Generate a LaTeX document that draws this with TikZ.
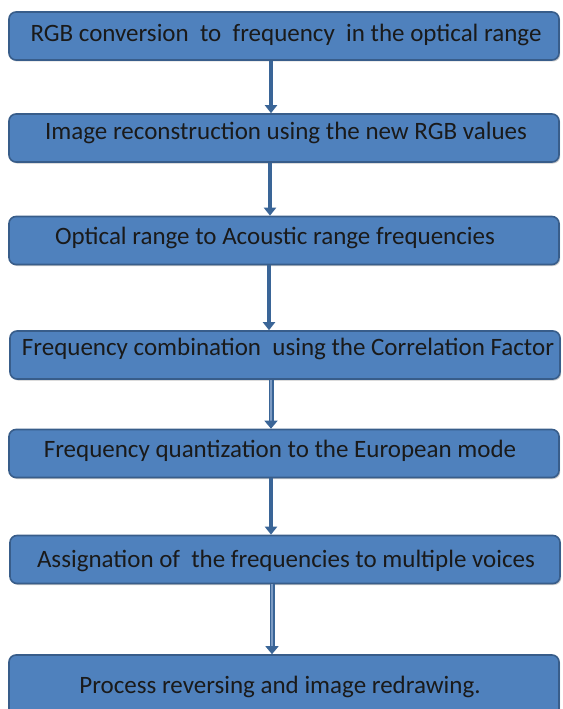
\documentclass[tikz,border=0pt]{standalone}
\usepackage{fontspec}
\setmainfont{Carlito}
\usetikzlibrary{arrows.meta,shadows}
\definecolor{boxfill}{HTML}{4F81BD}
\definecolor{boxline}{HTML}{385D8A}
\definecolor{arrowcol}{HTML}{3A6597}
\definecolor{arrowin}{HTML}{7E9CC4}
\definecolor{txt}{HTML}{1A1A1A}
\tikzset{
  stepbox/.style={draw=boxline, line width=1.6pt, fill=boxfill, rounded corners=7pt,
    minimum width=550pt, minimum height=48pt, inner sep=0pt,
    drop shadow={shadow xshift=1.2pt, shadow yshift=-1.5pt, opacity=0.35, fill=black!60}},
  steptext/.style={text=txt, font=\fontsize{25}{29}\selectfont, inner sep=0pt, anchor=center},
  flow/.style={draw=arrowcol, line width=3.6pt, -{Triangle[width=12pt,length=8pt]}},
  hollowflow/.style={draw=arrowcol, line width=1.6pt, double=arrowin, double distance=1.8pt,
    -{Triangle[width=13pt,length=8pt,fill=arrowcol]}}
}
\begin{document}
\begin{tikzpicture}[x=1pt,y=-1pt]
\useasboundingbox (0,0) rectangle (562,709);
\begin{scope}
\clip (0,0) rectangle (562,709);
% process boxes
\node[stepbox] (b1) at (284,36) {};
\node[stepbox] (b2) at (284,138) {};
\node[stepbox] (b3) at (284,240.5) {};
\node[stepbox] (b4) at (285,355) {};
\node[stepbox] (b5) at (284,453.5) {};
\node[stepbox] (b6) at (285,559.5) {};
\node[stepbox, minimum height=64pt] (b7) at (284,687) {};
\end{scope}
% labels
\node[steptext] (t1) at (286,35) {RGB conversion\ \ to\ \ frequency\ \ in the optical range};
\node[steptext] (t2) at (286,133) {Image reconstruction using the new RGB values};
\node[steptext] (t3) at (275,238) {Optical range to Acoustic range frequencies};
\node[steptext] (t4) at (288,349) {Frequency combination\ \ using the Correlation Factor};
\node[steptext] (t5) at (280,451) {Frequency quantization to the European mode};
\node[steptext] (t6) at (286,561) {Assignation of\ \ the frequencies to multiple voices};
\node[steptext] (t7) at (280,687) {Process reversing and image redrawing.};
% connectors
\draw[flow] (b1.south -| 271,0) -- (b2.north -| 271,0);
\draw[flow] (b2.south -| 270,0) -- (b3.north -| 270,0);
\draw[flow] (b3.south -| 269,0) -- (b4.north -| 269,0);
\draw[hollowflow] (b4.south -| 271,0) -- (b5.north -| 271,0);
\draw[flow] (b5.south -| 271,0) -- (b6.north -| 271,0);
\draw[hollowflow] (b6.south -| 272,0) -- (b7.north -| 272,0);
\end{tikzpicture}
\end{document}
